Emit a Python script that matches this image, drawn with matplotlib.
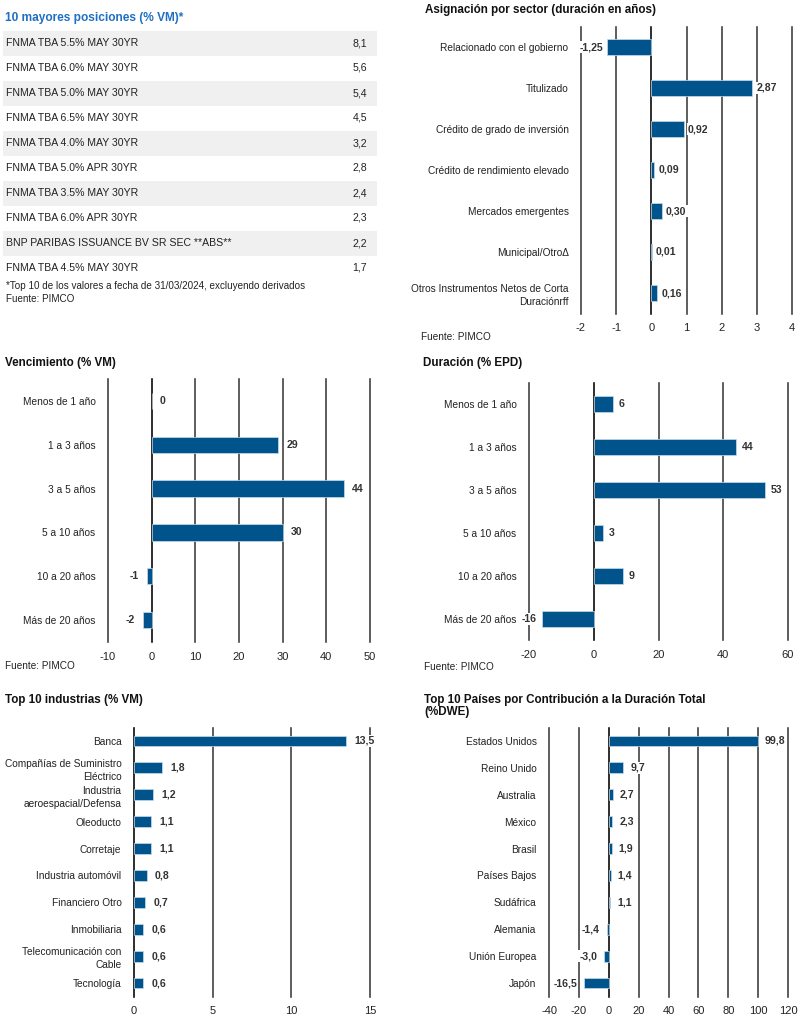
"""
Fund factsheet panel: top holdings table plus five horizontal bar charts
"""
import matplotlib

matplotlib.use("Agg")
import matplotlib.pyplot as plt  # noqa:E402
from matplotlib.patches import Rectangle  # noqa:E402

W, H = 800, 1024
BLUE = "#00538B"
GRID = "#3a3a3a"
TXT = "#222222"
SANS = ["Liberation Sans", "DejaVu Sans"]

# top 10 holdings
holdings = [
    "FNMA TBA 5.5% MAY 30YR",
    "FNMA TBA 6.0% MAY 30YR",
    "FNMA TBA 5.0% MAY 30YR",
    "FNMA TBA 6.5% MAY 30YR",
    "FNMA TBA 4.0% MAY 30YR",
    "FNMA TBA 5.0% APR 30YR",
    "FNMA TBA 3.5% MAY 30YR",
    "FNMA TBA 6.0% APR 30YR",
    "BNP PARIBAS ISSUANCE BV SR SEC **ABS**",
    "FNMA TBA 4.5% MAY 30YR",
]
holding_weights = [8.1, 5.6, 5.4, 4.5, 3.2, 2.8, 2.4, 2.3, 2.2, 1.7]

# sector allocation (duration in years)
sectors = [
    "Relacionado con el gobierno",
    "Titulizado",
    "Crédito de grado de inversión",
    "Crédito de rendimiento elevado",
    "Mercados emergentes",
    "Municipal/OtroΔ",
    "Otros Instrumentos Netos de Corta\nDuraciónrff",
]
sector_dur = [-1.25, 2.87, 0.92, 0.09, 0.30, 0.01, 0.16]

# maturity and duration buckets
buckets = [
    "Menos de 1 año",
    "1 a 3 años",
    "3 a 5 años",
    "5 a 10 años",
    "10 a 20 años",
    "Más de 20 años",
]
maturity_mv = [0, 29, 44, 30, -1, -2]
duration_epd = [6, 44, 53, 3, 9, -16]

# top 10 industries
industries = [
    "Banca",
    "Compañías de Suministro\nEléctrico",
    "Industria\naeroespacial/Defensa",
    "Oleoducto",
    "Corretaje",
    "Industria automóvil",
    "Financiero Otro",
    "Inmobiliaria",
    "Telecomunicación con\nCable",
    "Tecnología",
]
industry_mv = [13.5, 1.8, 1.2, 1.1, 1.1, 0.8, 0.7, 0.6, 0.6, 0.6]

# top 10 countries by duration contribution
countries = [
    "Estados Unidos",
    "Reino Unido",
    "Australia",
    "México",
    "Brasil",
    "Países Bajos",
    "Sudáfrica",
    "Alemania",
    "Unión Europea",
    "Japón",
]
country_dwe = [99.8, 9.7, 2.7, 2.3, 1.9, 1.4, 1.1, -1.4, -3.0, -16.5]


def box(left, top, right, bottom):
    """pixel box -> figure fraction rect"""
    return [left / W, 1 - bottom / H, (right - left) / W, (bottom - top) / H]


def fx(x):
    return x / W


def fy(y):
    return 1 - y / H


def bar_panel(fig, rect, cats, vals, xlim, ticks, fmt, height=0.37, offset=4):
    ax = fig.add_axes(rect)
    y = list(range(len(cats)))
    for t in ticks:
        ax.axvline(t, color="black" if t == 0 else GRID, lw=1.15, zorder=1, clip_on=False)
    ax.barh(y, vals, height=height, color=BLUE, edgecolor="#c9dcec", lw=0.5, zorder=2)
    for yi, v in zip(y, vals):
        ax.annotate(
            fmt(v),
            (v, yi),
            xytext=(offset if v >= 0 else -offset, 0),
            textcoords="offset points",
            ha="left" if v >= 0 else "right",
            va="center",
            fontsize=7.6,
            fontweight="bold",
            family=SANS,
            color="#333333",
            zorder=3,
            bbox=dict(boxstyle="square,pad=0.1", fc="white", ec="none"),
        )
    ax.set_xlim(*xlim)
    ax.set_ylim(len(cats) - 0.5, -0.5)
    ax.set_xticks(ticks)
    ax.set_xticklabels([str(t) for t in ticks], family=SANS, fontsize=8, color=TXT)
    ax.set_yticks(y)
    ax.set_yticklabels(cats, family=SANS, fontsize=7.3, color=TXT, linespacing=1.4)
    ax.tick_params(length=0, axis="y", pad=9)
    ax.tick_params(length=0, axis="x", pad=7)
    for s in ax.spines.values():
        s.set_visible(False)
    ax.patch.set_alpha(0)
    return ax


def comma(d):
    return lambda v: f"{v:.{d}f}".replace(".", ",")


def title(fig, x, y, s, **kw):
    fig.text(fx(x), fy(y), s, fontsize=8.4, fontweight="bold", family=SANS,
             va="center", color="#111111", **kw)


def main():
    fig = plt.figure(figsize=(W / 100, H / 100), dpi=100)

    # holdings table
    fig.text(fx(5), fy(18), "10 mayores posiciones (% VM)*", color="#1f6fc5",
             fontsize=8.6, fontweight="bold", family=SANS, va="center")
    for i, (name, w) in enumerate(zip(holdings, holding_weights)):
        yc = 43 + i * 25
        if i % 2 == 0:
            fig.add_artist(Rectangle((fx(3), fy(yc + 12.5)), fx(374), 25 / H,
                                     transform=fig.transFigure, fc="#f0f0f0", ec="none"))
        fig.text(fx(6), fy(yc), name, family=SANS, fontsize=7.6, color=TXT, va="center")
        fig.text(fx(367), fy(yc), comma(1)(w), family=SANS, fontsize=7.6,
                 color=TXT, va="center", ha="right")
    fig.text(fx(6), fy(286), "*Top 10 de los valores a fecha de 31/03/2024, excluyendo derivados",
             family=SANS, fontsize=7.1, color=TXT, va="center")
    fig.text(fx(6), fy(299), "Fuente: PIMCO", family=SANS, fontsize=7.1, color=TXT, va="center")

    # sector allocation
    title(fig, 425, 10, "Asignación por sector (duración en años)")
    bar_panel(fig, box(581, 26.5, 792, 313.5), sectors, sector_dur, (-2, 4),
              [-2, -1, 0, 1, 2, 3, 4], comma(2), height=0.37, offset=3)
    fig.text(fx(421), fy(337), "Fuente: PIMCO", family=SANS, fontsize=7.2, va="center", color=TXT)

    # maturity
    title(fig, 5, 363, "Vencimiento (% VM)")
    bar_panel(fig, box(108, 379, 370, 642), buckets, maturity_mv, (-10, 50),
              [-10, 0, 10, 20, 30, 40, 50], comma(0), height=0.37, offset=6)
    fig.text(fx(5), fy(666), "Fuente: PIMCO", family=SANS, fontsize=7.2, va="center", color=TXT)

    # duration
    title(fig, 423, 363, "Duración (% EPD)")
    bar_panel(fig, box(529, 383, 788, 640), buckets, duration_epd, (-20, 60),
              [-20, 0, 20, 40, 60], comma(0), height=0.37, offset=4)
    fig.text(fx(424), fy(667), "Fuente: PIMCO", family=SANS, fontsize=7.2, va="center", color=TXT)

    # industries
    title(fig, 5, 700, "Top 10 industrias (% VM)")
    bar_panel(fig, box(134, 727.5, 370, 996.5), industries, industry_mv, (0, 15),
              [0, 5, 10, 15], comma(1), height=0.4, offset=6)

    # countries
    title(fig, 424, 706, "Top 10 Países por Contribución a la Duración Total\n(%DWE)",
          linespacing=0.95)
    bar_panel(fig, box(549, 727.5, 788, 996.5), countries, country_dwe, (-40, 120),
              [-40, -20, 0, 20, 40, 60, 80, 100, 120], comma(1), height=0.4, offset=5)

    fig.savefig("out.png", dpi=100)
    plt.close(fig)


if __name__ == "__main__":
    main()
